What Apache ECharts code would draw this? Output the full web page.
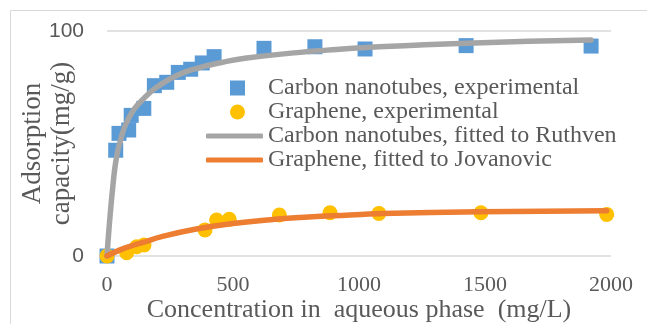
<!DOCTYPE html>
<html><head><meta charset="utf-8">
<script src="https://cdn.jsdelivr.net/npm/echarts@6/dist/echarts.min.js"></script>
<style>html,body{margin:0;padding:0;background:#fff}#c{width:647px;height:324px}</style>
</head><body><div id="c"></div>
<script>
const seriesNames = ['Carbon nanotubes, experimental','Graphene, experimental','Carbon nanotubes, fitted to Ruthven','Graphene, fitted to Jovanovic'];
const xTicks = [0,500,1000,1500,2000];
const yTicks = [0,100];
const cntExpX = [0,34.5,47.6,86,96,146,188,237,283,332,378,425,623,825,1024,1425,1921];
const cntExpY = [0,47,54.5,56,62.5,65.6,75.7,77.2,81.6,83,85.8,88.6,92.3,93,92,93.5,93.3];
const grExpX = [0,78,118,147,389,435,485,684,885,1079,1484,1983];
const grExpY = [0,1.5,4.1,4.9,11.6,16,16.3,18.2,19.2,18.9,19.2,18.5];
const cntFitX = [0,10,25,35,50,85,150,217,283,350,455,554,766,872,1031,1427,1921];
const cntFitY = [0,15,33,42,50,61,70.5,76.5,80.5,83.2,86,88,90.5,91.5,92.7,94.6,96];
const grFitX = [0,45,85,150,217,349,481,667,800,964,1070,1480,1983];
const grFitY = [0,2.4,4.1,6.3,8.6,11.9,14.2,16.3,17.3,18.2,18.8,19.7,20.1];

const zip = (a,b)=>a.map((v,i)=>[v,b[i]]);
const txt = '#595959';
const serif = '"Liberation Serif","Times New Roman",serif';
const sans = '"Liberation Sans",Arial,sans-serif';
const legendText = {fontFamily:serif,fontSize:24,color:txt,lineHeight:24};
const chart = echarts.init(document.getElementById('c'));
chart.setOption({
  animation:false,
  backgroundColor:'#fff',
  graphic:[{type:'rect',shape:{x:10.5,y:10.5,width:700,height:400},style:{fill:'none',stroke:'#D9D9D9',lineWidth:1},z:-10}],
  grid:{left:107,right:36,top:31,bottom:68,containLabel:false,outerBoundsMode:'none'},
  legend:[
    {orient:'vertical',left:230,top:76,padding:0,itemWidth:15,itemHeight:15,itemGap:0,
     textStyle:Object.assign({},legendText,{padding:[0,0,0,18]}),
     data:[seriesNames[0],seriesNames[1]]},
    {orient:'vertical',left:206,top:124,padding:0,itemWidth:57,itemHeight:5,itemGap:0,
     textStyle:Object.assign({},legendText,{lineHeight:23}),
     data:[{name:seriesNames[2],icon:'roundRect'},{name:seriesNames[3],icon:'roundRect'}]}
  ],
  xAxis:{type:'value',min:xTicks[0],max:xTicks[xTicks.length-1],interval:500,
    name:'Concentration in  aqueous phase  (mg/L)',nameLocation:'middle',nameGap:41,nameMoveOverlap:false,
    nameTextStyle:{fontFamily:serif,fontSize:26,color:txt},
    axisLine:{show:false},axisTick:{show:false},splitLine:{show:false},
    axisLabel:{fontFamily:serif,fontSize:22,color:txt,margin:18,formatter:v=>String(v)}},
  yAxis:{type:'value',min:yTicks[0],max:yTicks[yTicks.length-1],interval:100,
    name:'Adsorption\ncapacity(mg/g)',nameLocation:'middle',nameGap:31,nameMoveOverlap:false,
    nameTextStyle:{fontFamily:serif,fontSize:27,color:txt,lineHeight:29},
    axisLine:{show:false},axisTick:{show:false},
    splitLine:{lineStyle:{color:'#D9D9D9',width:1.5}},
    axisLabel:{fontFamily:sans,fontSize:21,color:txt,margin:23,formatter:v=>String(v)}},
  series:[
    {name:seriesNames[0],type:'scatter',symbol:'rect',symbolSize:15,data:zip(cntExpX,cntExpY),itemStyle:{color:'#5B9BD5',opacity:1}},
    {name:seriesNames[1],type:'scatter',symbol:'circle',symbolSize:15,data:zip(grExpX,grExpY),itemStyle:{color:'#FFC000',opacity:1}},
    {name:seriesNames[2],type:'line',smooth:0.5,showSymbol:false,symbol:'none',data:zip(cntFitX,cntFitY),lineStyle:{color:'#A5A5A5',width:5.5,cap:'round',join:'round'},itemStyle:{color:'#A5A5A5'}},
    {name:seriesNames[3],type:'line',smooth:0.5,showSymbol:false,symbol:'none',data:zip(grFitX,grFitY),lineStyle:{color:'#ED7D31',width:5.5,cap:'round',join:'round'},itemStyle:{color:'#ED7D31'}}
  ]
});
</script></body></html>
